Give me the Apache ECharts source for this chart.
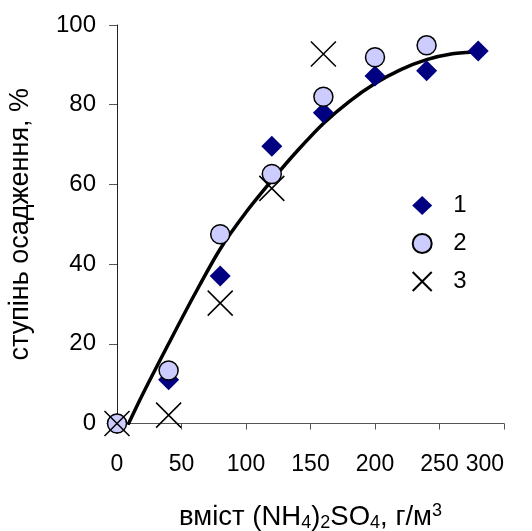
<!DOCTYPE html>
<html>
<head>
<meta charset="utf-8">
<script src="https://cdn.jsdelivr.net/npm/echarts@6/dist/echarts.min.js"></script>
<style>
html,body{margin:0;padding:0;background:#fff;}
#chart{width:532px;height:531px;}
</style>
</head>
<body>
<div id="chart"></div>
<script>
// Data
var xValues = [0, 40, 80, 120, 160, 200, 240, 280];
var series1 = [0, 11, 37, 69.6, 78, 87.2, 88.5, 93.5];
var xValues2 = [0, 40, 80, 120, 160, 200, 240];
var series2 = [0, 13.3, 47.5, 62.6, 82, 91.9, 94.9];
var xValues3 = [0, 40, 80, 120, 160];
var series3 = [0, 2.1, 30.2, 59, 92.7];
// trend curve
var curveX = [9, 20, 40, 60, 80, 100, 120, 140, 160, 180, 200, 220, 240, 260, 280];
var curveY = [0, 7.4, 20, 32.3, 43.8, 53, 61, 68.5, 75.3, 80.8, 85.3, 88.8, 91.3, 92.8, 93.3];
var xTicks = [0, 50, 100, 150, 200, 250, 300];
var yTicks = [0, 20, 40, 60, 80, 100];
var seriesNames = ['1', '2', '3'];

function pairs(xs, ys) { return xs.map(function (x, i) { return [x, ys[i]]; }); }

var font = '"Liberation Sans", Arial, sans-serif';
var chart = echarts.init(document.getElementById('chart'), null, {renderer: 'canvas'});
var option = {
  animation: false,
  backgroundColor: '#fff',
  grid: {left: 117, right: 28, top: 25, bottom: 107.5, containLabel: false, outerBoundsMode: 'none'},
  xAxis: {
    type: 'value', min: xTicks[0], max: xTicks[xTicks.length - 1], interval: 50,
    axisLine: {show: true, onZero: false, lineStyle: {color: '#555', width: 1}},
    axisTick: {show: true, inside: false, length: 6, lineStyle: {color: '#555'}},
    splitLine: {show: false},
    axisLabel: {color: '#000', fontSize: 23, fontFamily: font, margin: 30, alignMaxLabel: 'right'},
    name: '{t|вміст (NH}{s|4}{t|)}{s|2}{t|SO}{s|4}{t|, г/м}{p|3}',
    nameLocation: 'middle', nameGap: 79,
    nameTextStyle: {
      rich: {
        t: {fontSize: 27.5, fontFamily: font, color: '#000', lineHeight: 30, verticalAlign: 'middle'},
        s: {fontSize: 18, fontFamily: font, color: '#000', lineHeight: 14, verticalAlign: 'bottom'},
        p: {fontSize: 18, fontFamily: font, color: '#000', lineHeight: 18, verticalAlign: 'top'}
      }
    }
  },
  yAxis: {
    type: 'value', min: yTicks[0], max: yTicks[yTicks.length - 1], interval: 20,
    axisLine: {show: true, onZero: false, lineStyle: {color: '#222', width: 1}},
    axisTick: {show: true, inside: false, length: 8, lineStyle: {color: '#555'}},
    splitLine: {show: false},
    axisLabel: {color: '#000', fontSize: 24, fontFamily: font, margin: 21},
    name: 'ступінь осадження, %',
    nameLocation: 'middle', nameGap: 83, nameRotate: 90,
    nameTextStyle: {fontSize: 27, fontFamily: font, color: '#000'}
  },
  legend: {
    show: true, orient: 'vertical', left: 411.7, top: 193.5, padding: 0,
    itemWidth: 20, itemHeight: 19, itemGap: 14,
    data: seriesNames,
    textStyle: {fontSize: 24, lineHeight: 19, fontFamily: font, color: '#000', padding: [0, 0, 0, 16]}
  },
  series: [
    {
      type: 'line', name: 'trend', data: pairs(curveX, curveY), smooth: 0.3,
      showSymbol: false, symbol: 'none', z: 1,
      lineStyle: {color: '#000', width: 3.5, cap: 'round'}
    },
    {
      type: 'scatter', name: seriesNames[0], data: pairs(xValues, series1),
      symbol: 'diamond', symbolSize: [21, 21], z: 3,
      itemStyle: {color: '#000080', opacity: 1}
    },
    {
      type: 'scatter', name: seriesNames[1], data: pairs(xValues2, series2),
      symbol: 'circle', symbolSize: 19, z: 4,
      itemStyle: {color: '#ccccff', borderColor: '#000', borderWidth: 1.5, opacity: 1}
    },
    {
      type: 'scatter', name: seriesNames[2], data: pairs(xValues3, series3),
      symbol: 'path://M0,0L10,10M10,0L0,10', symbolSize: 25, z: 5,
      itemStyle: {color: 'rgba(0,0,0,0)', borderColor: '#000', borderWidth: 1.5, opacity: 1}
    }
  ]
};
chart.setOption(option);
</script>
</body>
</html>
